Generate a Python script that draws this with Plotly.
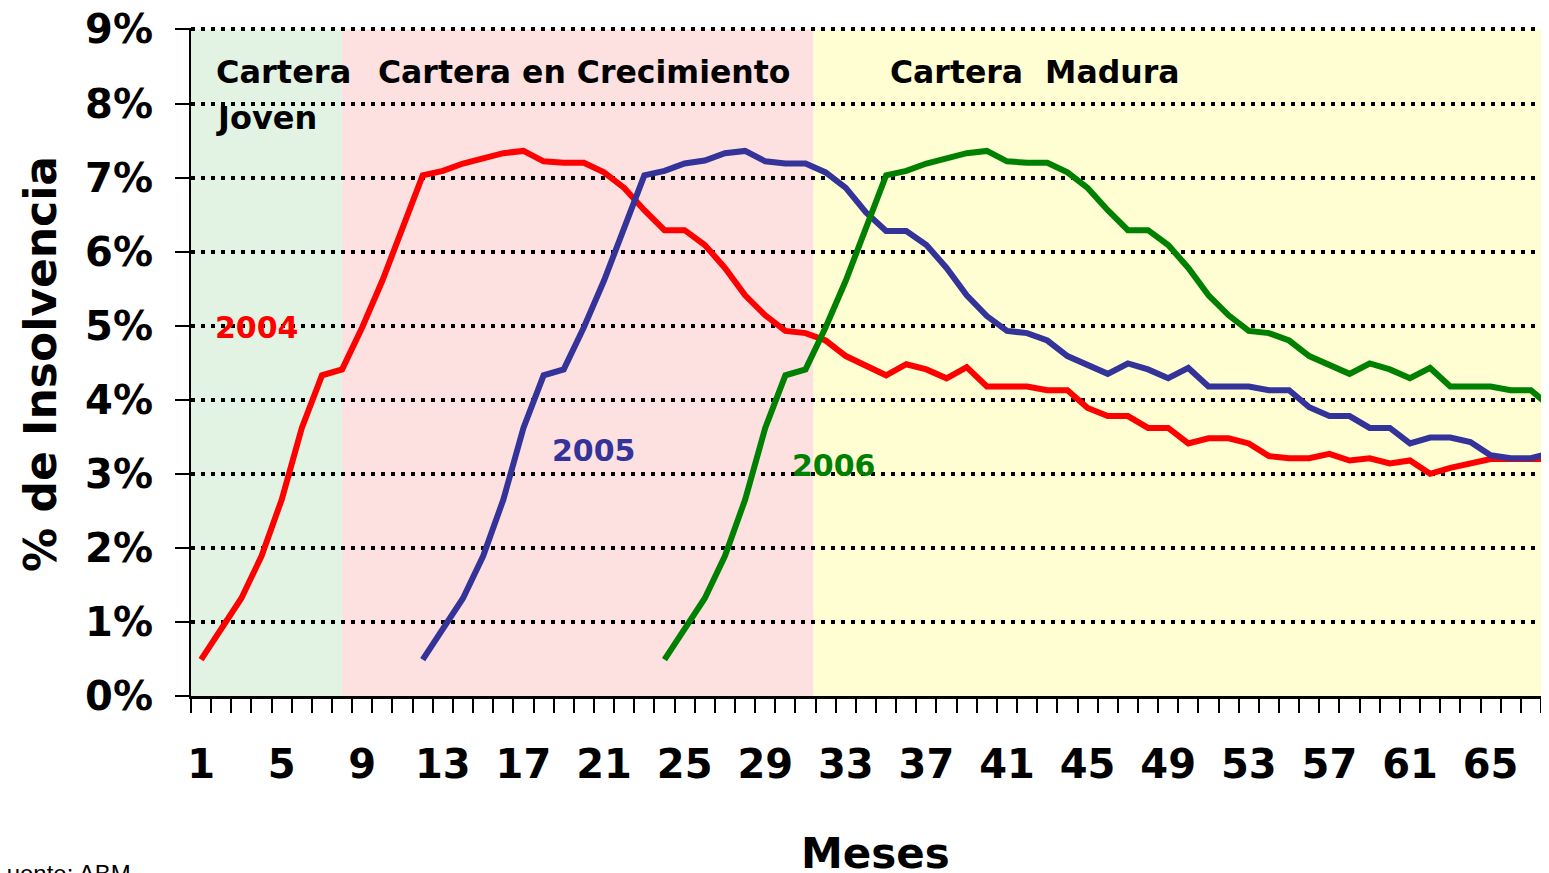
import plotly.graph_objects as go

# Meses (eje x) y % de insolvencia por cosecha
meses_2004 = list(range(1, 69))
insolvencia_2004 = [
    0.49, 0.90, 1.32, 1.89, 2.65, 3.62, 4.33, 4.41, 4.98, 5.61,
    6.32, 7.03, 7.09, 7.19, 7.26, 7.33, 7.36, 7.22, 7.20, 7.20,
    7.07, 6.86, 6.56, 6.29, 6.29, 6.09, 5.78, 5.41, 5.14, 4.93,
    4.90, 4.80, 4.59, 4.47, 4.33, 4.48, 4.41, 4.29, 4.44, 4.18,
    4.18, 4.18, 4.13, 4.13, 3.89, 3.78, 3.78, 3.62, 3.62, 3.41,
    3.48, 3.48, 3.41, 3.24, 3.21, 3.21, 3.27, 3.18, 3.21, 3.14,
    3.18, 3.00, 3.08, 3.13, 3.20, 3.20, 3.20, 3.20,
]

meses_2005 = list(range(12, 69))
insolvencia_2005 = [
    0.49, 0.90, 1.32, 1.89, 2.65, 3.62, 4.33, 4.41, 4.98, 5.61,
    6.32, 7.03, 7.09, 7.19, 7.23, 7.33, 7.36, 7.22, 7.19, 7.19,
    7.07, 6.86, 6.53, 6.28, 6.28, 6.09, 5.78, 5.41, 5.13, 4.93,
    4.90, 4.80, 4.59, 4.47, 4.35, 4.49, 4.41, 4.29, 4.43, 4.18,
    4.18, 4.18, 4.13, 4.13, 3.90, 3.78, 3.78, 3.62, 3.62, 3.41,
    3.49, 3.49, 3.43, 3.25, 3.21, 3.21, 3.28,
]

meses_2006 = list(range(24, 69))
insolvencia_2006 = [
    0.49, 0.90, 1.32, 1.89, 2.65, 3.62, 4.33, 4.41, 4.98, 5.61,
    6.32, 7.03, 7.09, 7.19, 7.26, 7.33, 7.36, 7.22, 7.20, 7.20,
    7.07, 6.86, 6.56, 6.29, 6.29, 6.09, 5.78, 5.41, 5.14, 4.93,
    4.90, 4.80, 4.59, 4.48, 4.35, 4.49, 4.41, 4.29, 4.43, 4.18,
    4.18, 4.18, 4.13, 4.13, 3.90,
]

# Etapas de la cartera (limites en meses)
etapas = ["Cartera<br>Joven", "Cartera en Crecimiento", "Cartera\u00a0 Madura"]
etapa_inicio = [0.5, 8.0, 31.4]
etapa_fin = [8.0, 31.4, 68.5]
etapa_color = ["#e3f3e3", "#fde0e0", "#fefed2"]

x_ticks = list(range(1, 69, 4))
y_ticks = list(range(0, 10))
y_labels = [f"{v}%" for v in y_ticks]

FONT = "DejaVu Sans"

fig = go.Figure()

for nombre, x, y, color in [
    ("2004", meses_2004, insolvencia_2004, "#ff0000"),
    ("2005", meses_2005, insolvencia_2005, "#333399"),
    ("2006", meses_2006, insolvencia_2006, "#008000"),
]:
    fig.add_trace(go.Scatter(x=x, y=y, mode="lines", name=nombre,
                             line=dict(color=color, width=6)))

for x0, x1, c in zip(etapa_inicio, etapa_fin, etapa_color):
    fig.add_shape(type="rect", xref="x", yref="y", x0=x0, x1=x1, y0=0, y1=9,
                  fillcolor=c, line_width=0, layer="below")

# la pagina deja 8px de margen, asi que la figura ocupa 1541x865
fig.update_layout(
    width=1541, height=865,
    margin=dict(l=183, r=0, t=20, b=177, autoexpand=False),
    plot_bgcolor="white", paper_bgcolor="white",
    showlegend=False,
    font=dict(family=FONT, color="black"),
)

fig.update_xaxes(
    range=[0.5, 67.9],
    automargin=False,
    tickvals=x_ticks,
    ticks="",
    tickfont=dict(size=40, family=FONT, weight="bold"),
    ticklabelstandoff=31,
    ticklabeloverflow="allow",
    minor=dict(tickmode="linear", tick0=0.5, dtick=1, ticks="outside",
               ticklen=14, tickwidth=2, tickcolor="black", showgrid=False),
    showline=True, linecolor="black", linewidth=3,
    showgrid=False, zeroline=False,
)

fig.update_yaxes(
    range=[0, 9.02],
    automargin=False,
    tickvals=y_ticks, ticktext=y_labels,
    ticks="outside", ticklen=14, tickwidth=2, tickcolor="black",
    tickfont=dict(size=40, family=FONT, weight="bold"),
    ticklabelstandoff=14,
    ticklabeloverflow="allow",
    showline=True, linecolor="black", linewidth=2,
    showgrid=True, gridcolor="black", gridwidth=3.5, griddash="4px,6px",
    zeroline=False,
)

# Titulos de los ejes
fig.add_annotation(text="% de Insolvencia", xref="paper", yref="paper",
                   x=-0.1112, y=0.497, xanchor="center", yanchor="middle",
                   textangle=-90, showarrow=False,
                   font=dict(size=44, family=FONT, weight="bold"))
fig.add_annotation(text="Meses", xref="paper", yref="paper",
                   x=0.504, y=-0.236, xanchor="center", yanchor="middle",
                   showarrow=False,
                   font=dict(size=42, family=FONT, weight="bold"))
fig.add_annotation(text="Fuente: ABM", xref="paper", yref="paper",
                   x=-0.0427, y=-0.2425, xanchor="right", yanchor="top",
                   showarrow=False,
                   font=dict(size=24, family="Liberation Sans"))

# Etiquetas de etapas
for i, linea in enumerate(etapas[0].split("<br>")):
    fig.add_annotation(text=linea, x=1.62, y=8.42 - 0.62 * i, xanchor="left",
                       showarrow=False,
                       font=dict(size=32, family=FONT, weight="bold"))
fig.add_annotation(text=etapas[1], x=20.02, y=8.42, showarrow=False,
                   font=dict(size=31.5, family=FONT, weight="bold"))
fig.add_annotation(text=etapas[2], x=42.35, y=8.42, showarrow=False,
                   font=dict(size=31.5, family=FONT, weight="bold"))

# Etiquetas de cosechas
for txt, x, y, c in [("2004", 3.79, 4.97, "#ff0000"),
                     ("2005", 20.5, 3.32, "#333399"),
                     ("2006", 32.4, 3.11, "#008000")]:
    fig.add_annotation(text=txt, x=x, y=y, showarrow=False,
                       font=dict(size=30, family=FONT, weight="bold", color=c))

fig.write_html("out.html")
